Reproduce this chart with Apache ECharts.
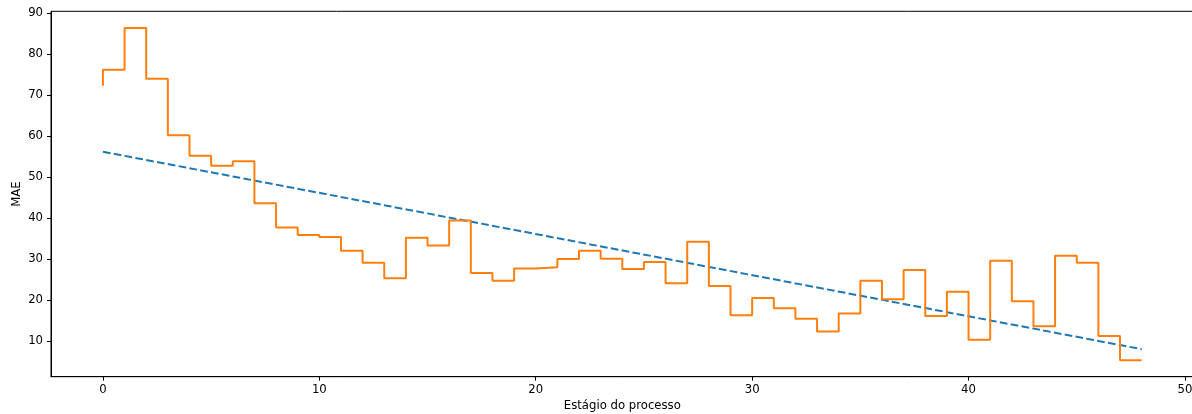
<!DOCTYPE html>
<html>
<head>
<meta charset="utf-8">
<script src="https://cdn.jsdelivr.net/npm/echarts@6/dist/echarts.min.js"></script>
<style>
html,body{margin:0;padding:0;background:#fff;}
#chart{width:1192px;height:414px;}
</style>
</head>
<body>
<div id="chart"></div>
<script>
const stageX = [0,1,2,3,4,5,6,7,8,9,10,11,12,13,14,15,16,17,18,19,20,21,22,23,24,25,26,27,28,29,30,31,32,33,34,35,36,37,38,39,40,41,42,43,44,45,46,47,48];
const maeValues = [72.3,76.2,86.4,74.0,60.2,55.2,52.8,53.9,43.6,37.7,35.9,35.4,32.0,29.1,25.3,35.2,33.3,39.4,26.6,24.7,27.7,28.0,30.0,32.0,30.1,27.6,29.3,24.1,34.2,23.4,16.3,20.5,18.0,15.4,12.3,16.7,24.7,20.2,27.3,16.1,22.0,10.3,29.6,19.7,13.6,30.8,29.1,11.2,5.3];
const trendX = [0, 48];
const trendY = [56.2, 8.0];
const xTicks = [0,10,20,30,40,50];
const yTicks = [10,20,30,40,50,60,70,80,90];
const xName = 'Estágio do processo';
const yName = 'MAE';

const font = 'DejaVu Sans';
const chart = echarts.init(document.getElementById('chart'), null, {renderer:'canvas'});
chart.setOption({
  animation:false,
  backgroundColor:'#ffffff',
  grid:{left:51, top:11.3, width:1142.6, height:365.4, outerBoundsMode:'none', containLabel:false, show:true, borderColor:'#000', borderWidth:1, backgroundColor:'transparent'},
  xAxis:{
    type:'value', min:-2.4, max:50.4,
    name:xName, nameLocation:'middle', nameGap:23, nameMoveOverlap:false,
    nameTextStyle:{fontFamily:font, fontSize:11.7, color:'#000'},
    axisLine:{show:true, onZero:false, lineStyle:{color:'#000', width:1}},
    axisTick:{show:true, length:4, customValues:xTicks, lineStyle:{color:'#000', width:1}},
    axisLabel:{customValues:xTicks, margin:7, fontFamily:font, fontSize:11.7, color:'#000'},
    splitLine:{show:false}
  },
  yAxis:{
    type:'value', min:1.28, max:90.49,
    name:yName, nameLocation:'middle', nameGap:28, nameRotate:90, nameMoveOverlap:false,
    nameTextStyle:{fontFamily:font, fontSize:11.7, color:'#000'},
    axisLine:{show:true, onZero:false, lineStyle:{color:'#000', width:1}},
    axisTick:{show:true, length:4, customValues:yTicks, lineStyle:{color:'#000', width:1}},
    axisLabel:{customValues:yTicks, margin:8, fontFamily:font, fontSize:11.7, color:'#000'},
    splitLine:{show:false}
  },
  series:[
    {
      type:'line', name:'trend',
      data: trendX.map((x,i)=>[x, trendY[i]]),
      showSymbol:false, symbol:'none',
      lineStyle:{color:'#1f77b4', width:2, type:[7.7,3.3]},
      z:2
    },
    {
      type:'line', name:'MAE', step:'start',
      data: stageX.map((x,i)=>[x, maeValues[i]]),
      showSymbol:false, symbol:'none',
      lineStyle:{color:'#ff7f0e', width:2},
      z:3
    }
  ]
});
</script>
</body>
</html>
